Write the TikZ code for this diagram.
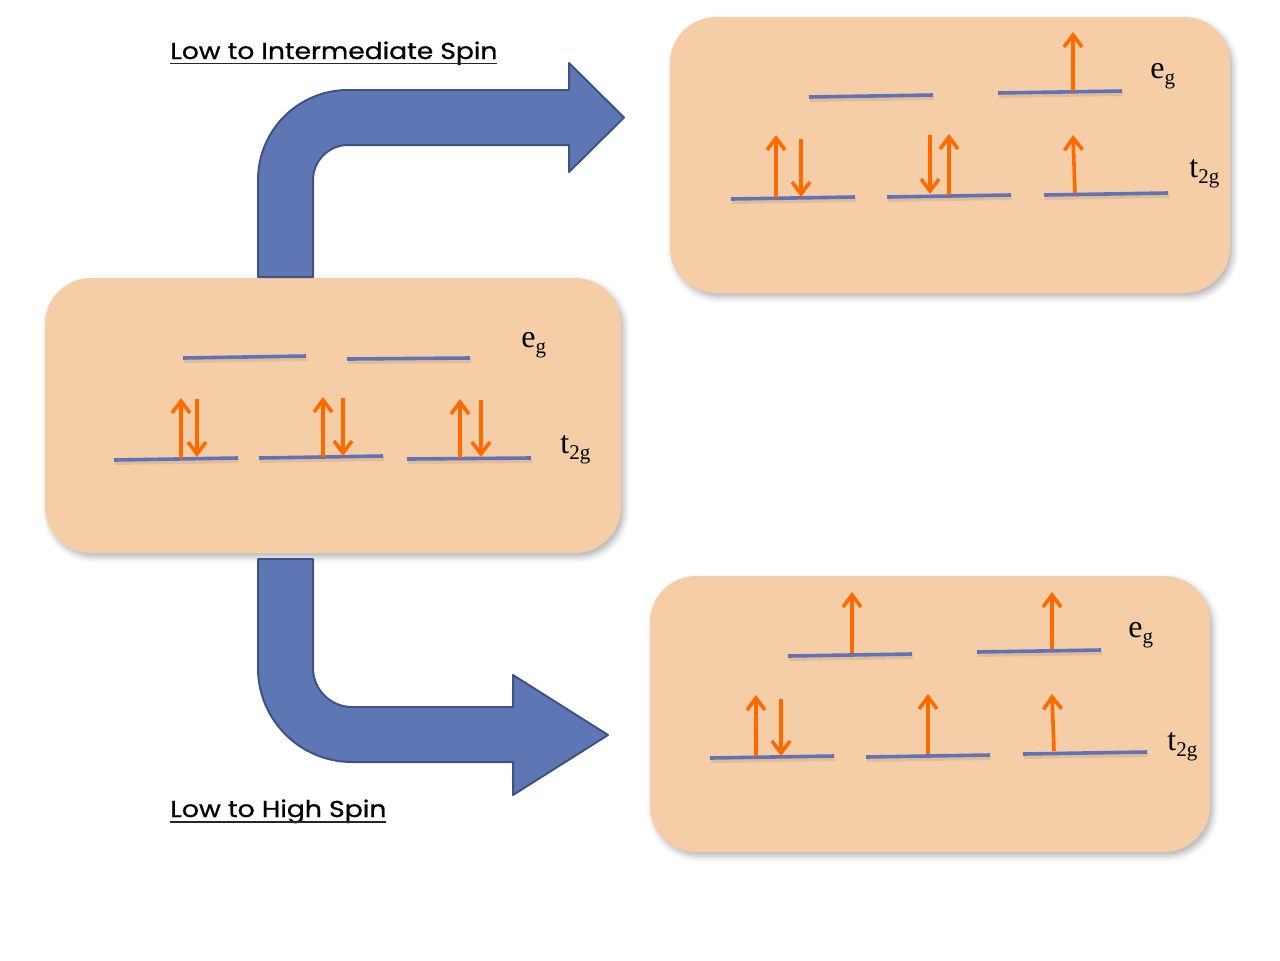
\documentclass[tikz,border=0pt]{standalone}
\usepackage{fontspec}
\setmainfont{Liberation Serif}
\newfontfamily\labelfont[FakeBold=0.8]{Poppins}
\usetikzlibrary{arrows.meta,shadows.blur}
\definecolor{boxfill}{RGB}{245,205,167}
\definecolor{levelblue}{RGB}{98,114,182}
\definecolor{spinorange}{RGB}{255,106,0}
\definecolor{bigfill}{RGB}{95,118,180}
\definecolor{bigedge}{RGB}{62,82,134}
\newcommand{\orbsym}[2]{#1\raisebox{-3pt}{\fontsize{10.5pt}{10.5pt}\selectfont #2}}
\begin{document}
\begin{tikzpicture}[x=0.5pt,y=-0.5pt,
  panel/.style={fill=boxfill, draw=none, inner sep=0pt, rounded corners=23pt,
    blur shadow={shadow xshift=1.5pt, shadow yshift=-2pt, shadow blur radius=3pt, shadow opacity=30}},
  level/.style={draw=levelblue, line width=1.8pt},
  levelshadow/.style={draw=black, opacity=0.08, line width=2pt},
  spin/.style={draw=spinorange, line width=1.8pt, -{Straight Barb[length=6pt,width=9pt]}},
  bigarrow/.style={fill=bigfill, draw=bigedge, line width=1pt, line join=round},
  orbital/.style={font=\fontsize{16pt}{16pt}\selectfont, inner sep=0pt, anchor=base west},
  title/.style={font=\labelfont\fontsize{11.5pt}{12pt}\selectfont, inner sep=0pt, anchor=base west},
  uline/.style={draw=black!85, line width=0.7pt}
]
\useasboundingbox (0,0) rectangle (1280,960);

% panels
\node[panel, minimum width=280pt, minimum height=138pt] (ispanel) at (950,155) {};
\node[panel, minimum width=288pt, minimum height=137.5pt] (lspanel) at (333,415.5) {};
\node[panel, minimum width=280pt, minimum height=138pt] (hspanel) at (930,714) {};

% big bent arrows
\draw[bigarrow] (258,277) -- (258,180) .. controls (258,130.3) and (298.3,90) .. (348,90)
  -- (569,90) -- (569,63) -- (624,117.5) -- (569,172) -- (569,145) -- (348,145)
  .. controls (328.7,145) and (313,160.7) .. (313,180) -- (313,277) -- cycle;
\draw[bigarrow] (258,559) -- (258,668) .. controls (258,719.9) and (300.1,762) .. (352,762)
  -- (513,762) -- (513,795) -- (608,735) -- (513,675) -- (513,707) -- (352,707)
  .. controls (330.5,707) and (313,689.5) .. (313,668) -- (313,559) -- cycle;

% energy levels
\foreach \xa/\ya/\xb/\yb in {
  183/358/306/356, 347/359/470/358, 114/460/238/458, 259/458/383/456, 407/459/531/458,
  809/97/933/95, 998/93/1122/91, 731/199/855/197, 887/197/1011/195, 1044/195/1168/193,
  788/656/912/654, 977/652/1101/650, 710/758/834/756, 866/757/990/755, 1023/754/1147/752}{
  \draw[levelshadow] (\xa+1,\ya+3) -- (\xb+1,\yb+3);
  \draw[level] (\xa,\ya) -- (\xb,\yb);
}

% spins, low spin
\draw[spin] (181,458) -- (181,398);
\draw[spin] (197,399) -- (197,457);
\draw[spin] (323,457) -- (323,397);
\draw[spin] (343,398) -- (343,456);
\draw[spin] (460,458) -- (460,399);
\draw[spin] (481,400) -- (481,457);
% spins, intermediate spin
\draw[spin] (1073,91) -- (1073,32);
\draw[spin] (776,197) -- (776,135);
\draw[spin] (801,139) -- (801,197);
\draw[spin] (930,135) -- (930,194);
\draw[spin] (949,195) -- (949,134);
\draw[spin] (1075,193) -- (1073,135);
% spins, high spin
\draw[spin] (852,653) -- (852,592);
\draw[spin] (1052,649) -- (1052,592);
\draw[spin] (756,756) -- (756,695);
\draw[spin] (781,699) -- (781,756);
\draw[spin] (928,754) -- (928,694);
\draw[spin] (1054,751) -- (1052,694);

% orbital labels
\node[orbital] (lseg) at (521,347) {\orbsym{e}{g}};
\node[orbital] (lst) at (560,453) {\orbsym{t}{2g}};
\node[orbital] (iseg) at (1150,78) {\orbsym{e}{g}};
\node[orbital] (ist) at (1189,177) {\orbsym{t}{2g}};
\node[orbital] (hseg) at (1128,637) {\orbsym{e}{g}};
\node[orbital] (hst) at (1167,750) {\orbsym{t}{2g}};

% titles
\node[title] (ititle) at (170,59) {\resizebox{163.5pt}{\height}{Low to Intermediate Spin}};
\draw[uline] (170,63.5) -- (497,63.5);
\node[title] (htitle) at (170,817) {\resizebox{108pt}{\height}{Low to High Spin}};
\draw[uline] (170,822) -- (386,822);
\end{tikzpicture}
\end{document}
